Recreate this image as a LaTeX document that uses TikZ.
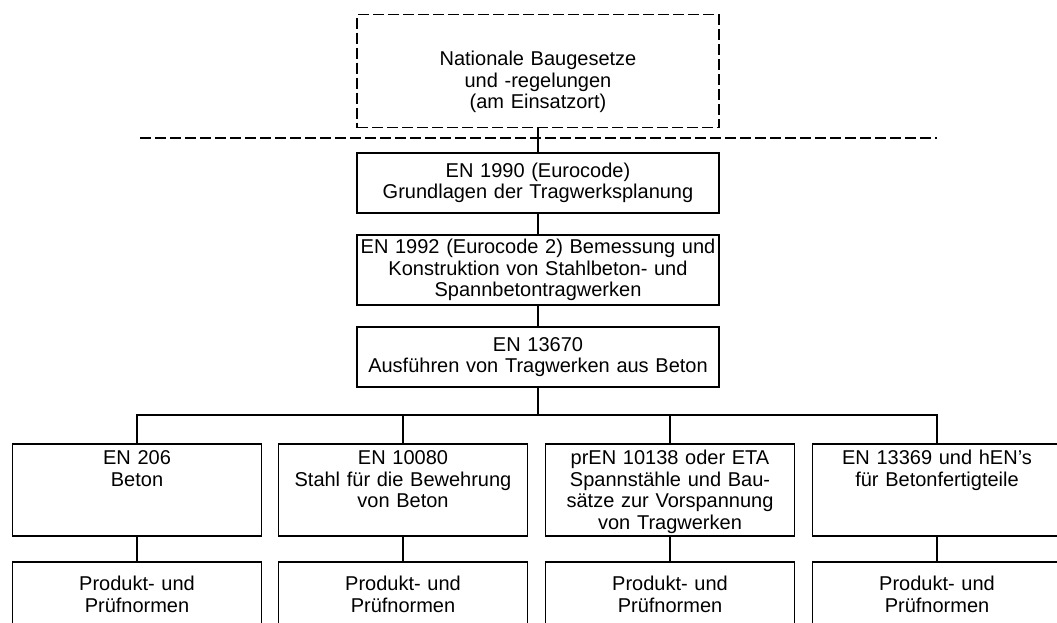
\documentclass[tikz,border=0pt]{standalone}
\usepackage{fontspec}
\setmainfont{Liberation Sans}
\usetikzlibrary{calc}

\tikzset{
  normbox/.style={draw, line width=1.6pt, inner xsep=1pt, inner ysep=0pt, align=center, font=\fontsize{20}{21.5}\selectfont},
  dashbox/.style={normbox, line width=1.5pt, dash pattern=on 11pt off 4pt},
  obenbox/.style={normbox, text width=360pt},
  untenbox/.style={normbox, text width=247pt, text height=21pt, text depth=71pt, anchor=north},
  pruefbox/.style={normbox, text width=247pt, minimum height=65pt},
  verb/.style={line width=1.3pt},
}

\begin{document}
\begin{tikzpicture}[x=1pt, y=-1pt]
    \useasboundingbox[fill=white] (0,0) rectangle (1057,623);
    \clip (0,0) rectangle (1057,623);
    % nationale Ebene
    \node[dashbox, text width=360pt, text height=51pt, text depth=62pt, anchor=north] (natbau) at (538,14) {Nationale Baugesetze\\und -regelungen\\(am Einsatzort)};
    \coordinate (grenzeL) at (140,138);
    \coordinate (grenzeR) at (937,138);
    \draw[line width=1.5pt, dash pattern=on 11pt off 4pt] (grenzeL) -- (grenzeR);
    % Eurocodes
    \node[obenbox, minimum height=60pt] (en1990) at (538,183) {EN 1990 (Eurocode)\\Grundlagen der Tragwerksplanung};
    \node[obenbox, minimum height=70pt] (en1992) at (538,270) {EN 1992 (Eurocode 2) Bemessung und\\Konstruktion von Stahlbeton- und\\Spannbetontragwerken};
    \node[obenbox, minimum height=60pt] (en13670) at (538,357) {EN 13670\\Ausführen von Tragwerken aus Beton};
    % Baustoffnormen
    \node[untenbox] (en206) at (137,443) {EN 206\\Beton};
    \node[untenbox] (en10080) at (403,443) {EN 10080\\Stahl für die Bewehrung\\von Beton};
    \node[untenbox] (en10138) at (670,443) {prEN 10138 oder ETA\\Spannstähle und Bau-\\sätze zur Vorspannung\\von Tragwerken};
    \node[untenbox] (en13369) at (937,443) {EN 13369 und hEN's\\für Betonfertigteile};
    % Produkt- und Pruefnormen
    \node[pruefbox] (pn206) at (137,594.5) {Produkt- und\\Prüfnormen};
    \node[pruefbox] (pn10080) at (403,594.5) {Produkt- und\\Prüfnormen};
    \node[pruefbox] (pn10138) at (670,594.5) {Produkt- und\\Prüfnormen};
    \node[pruefbox] (pn13369) at (937,594.5) {Produkt- und\\Prüfnormen};
    % Verbindungen
    \draw[verb] (natbau) -- (en1990);
    \draw[verb] (en1990) -- (en1992);
    \draw[verb] (en1992) -- (en13670);
    \coordinate (bus) at (538,415);
    \draw[verb] (en13670) -- (bus);
    \foreach \n in {en206,en10080,en10138,en13369}
        \draw[verb] (\n.north) |- (bus);
    \foreach \n/\p in {en206/pn206,en10080/pn10080,en10138/pn10138,en13369/pn13369}
        \draw[verb] (\n) -- (\p);
\end{tikzpicture}
\end{document}
